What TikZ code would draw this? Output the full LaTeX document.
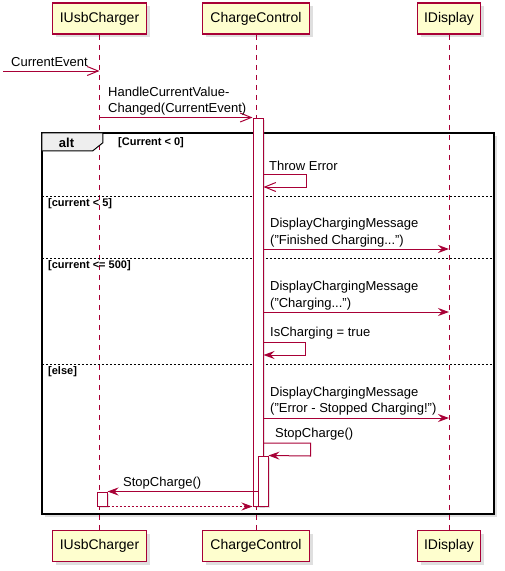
\documentclass[tikz,border=0pt]{standalone}
\usepackage{fontspec}
\setmainfont{Liberation Sans}
\usetikzlibrary{arrows.meta}
\usetikzlibrary{shadows}
\definecolor{umlred}{HTML}{A80036}
\definecolor{umlfill}{HTML}{FEFECE}
\definecolor{tabgray}{HTML}{EEEEEE}
\tikzstyle{participant}=[draw=umlred,fill=umlfill,line width=1.5pt,minimum height=31pt,inner sep=0pt,
  font=\fontsize{14}{16}\selectfont,drop shadow={shadow xshift=3pt,shadow yshift=-3pt,opacity=0.25}]
\tikzstyle{lifeline}=[umlred,line width=1pt,dash pattern=on 5pt off 5pt]
\tikzstyle{activation}=[draw=umlred,fill=white,line width=1pt,minimum width=10pt,inner sep=0pt,
  drop shadow={shadow xshift=2pt,shadow yshift=-2pt,opacity=0.2}]
\tikzstyle{msg}=[inner sep=0pt,font=\fontsize{13}{16.5}\selectfont,align=left,anchor=west]
\tikzstyle{guard}=[inner sep=0pt,font=\fontsize{11}{13}\selectfont\bfseries,anchor=west]
\tikzstyle{syncmsg}=[umlred,line width=1pt,-{Stealth[length=11pt,width=8pt,inset=4pt]}]
\tikzstyle{asyncmsg}=[umlred,line width=1pt,-{Straight Barb[length=11pt,width=9pt]}]
\tikzstyle{returnmsg}=[syncmsg,dash pattern=on 2pt off 2pt]
\tikzstyle{frame}=[fill=white,inner sep=0pt,
  drop shadow={shadow xshift=3pt,shadow yshift=-3pt,opacity=0.25}]
\tikzstyle{separator}=[black,line width=0.8pt,dash pattern=on 2pt off 2pt]
\begin{document}
\begin{tikzpicture}[x=1pt,y=-1pt]
  \useasboundingbox (0,0) rectangle (505,571);

  % ALT FRAME (background and shadow)
  \node[frame,minimum width=452pt,minimum height=381pt] (alt) at (268,323.5) {};

  % PARTICIPANTS
  \node[participant,minimum width=94pt] (uc) at (99.5,18.5) {IUsbCharger};
  \node[participant,minimum width=107pt] (cc) at (256,18.5) {ChargeControl};
  \node[participant,minimum width=63pt] (disp) at (449,18.5) {IDisplay};
  \node[participant,minimum width=94pt] (ucB) at (99.5,546) {IUsbCharger};
  \node[participant,minimum width=107pt] (ccB) at (256,546) {ChargeControl};
  \node[participant,minimum width=63pt] (dispB) at (449,546) {IDisplay};
  \draw[lifeline] (uc.south) -- (ucB.north);
  \draw[lifeline] (cc.south) -- (ccB.north);
  \draw[lifeline] (disp.south) -- (dispB.north);

  % ALT FRAME (border, tab, guards)
  \draw[line width=1.5pt] (alt.north west) rectangle (alt.south east);
  \draw[fill=tabgray,line width=1pt] (alt.north west) -- ++(61,0) -- ++(0,10) -- ++(-10,8)
    -- (alt.north west |- 0,151) -- cycle;
  \node[font=\fontsize{13}{15}\selectfont\bfseries,inner sep=0pt] (altLbl) at (66.5,142.5) {alt};
  \node[guard] (g1) at (118,143) {[Current < 0]};
  \draw[separator] (alt.west |- 0,196) -- (alt.east |- 0,196);
  \node[guard] (g2) at (48,204) {[current < 5]};
  \draw[separator] (alt.west |- 0,258) -- (alt.east |- 0,258);
  \node[guard] (g3) at (48,266) {[current <= 500]};
  \draw[separator] (alt.west |- 0,364) -- (alt.east |- 0,364);
  \node[guard] (g4) at (48,372) {[else]};

  % ACTIVATIONS
  \node[activation,minimum height=388pt] (act1) at (258,312) {};
  \node[activation,minimum height=50pt] (act2) at (263,481) {};
  \node[activation,minimum height=14pt] (act3) at (102,499) {};

  % MESSAGES
  \coordinate (evStart) at (3,71);
  \draw[asyncmsg] (evStart) -- (uc.south |- evStart);
  \node[msg] (evLbl) at (11,62) {CurrentEvent};
  \draw[asyncmsg] (uc.south |- act1.north) -- (act1.north west);
  \node[msg] (hcvLbl) at (108,101) {HandleCurrentValue-\\Changed(CurrentEvent)};
  \draw[asyncmsg] (act1.east |- 0,174) -- ++(43,0) -- ++(0,13) -- (act1.east |- 0,187);
  \node[msg] (errLbl) at (269,166) {Throw Error};
  \draw[syncmsg] (act1.east |- 0,249) -- (disp.south |- 0,249);
  \node[msg] (finLbl) at (270,232.5) {DisplayChargingMessage\\("Finished Charging...")};
  \draw[syncmsg] (act1.east |- 0,312) -- (disp.south |- 0,312);
  \node[msg] (chgLbl) at (270,295.5) {DisplayChargingMessage\\("Charging...")};
  \draw[syncmsg] (act1.east |- 0,342) -- ++(42,0) -- ++(0,13) -- (act1.east |- 0,355);
  \node[msg] (isLbl) at (270,333) {IsCharging = true};
  \draw[syncmsg] (act1.east |- 0,418) -- (disp.south |- 0,418);
  \node[msg] (stopLbl) at (270,401) {DisplayChargingMessage\\("Error - Stopped Charging!")};
  \draw[syncmsg] (act1.east |- 0,443) -- ++(47,0) -- ++(0,13) -- (act2.north east);
  \node[msg] (scLbl) at (275,434) {StopCharge()};
  \draw[syncmsg] (act2.west |- act3.north) -- (act3.north east);
  \node[msg] (sc2Lbl) at (123,483) {StopCharge()};
  \draw[returnmsg] (act3.south east) -- (act1.south west);
\end{tikzpicture}
\end{document}
